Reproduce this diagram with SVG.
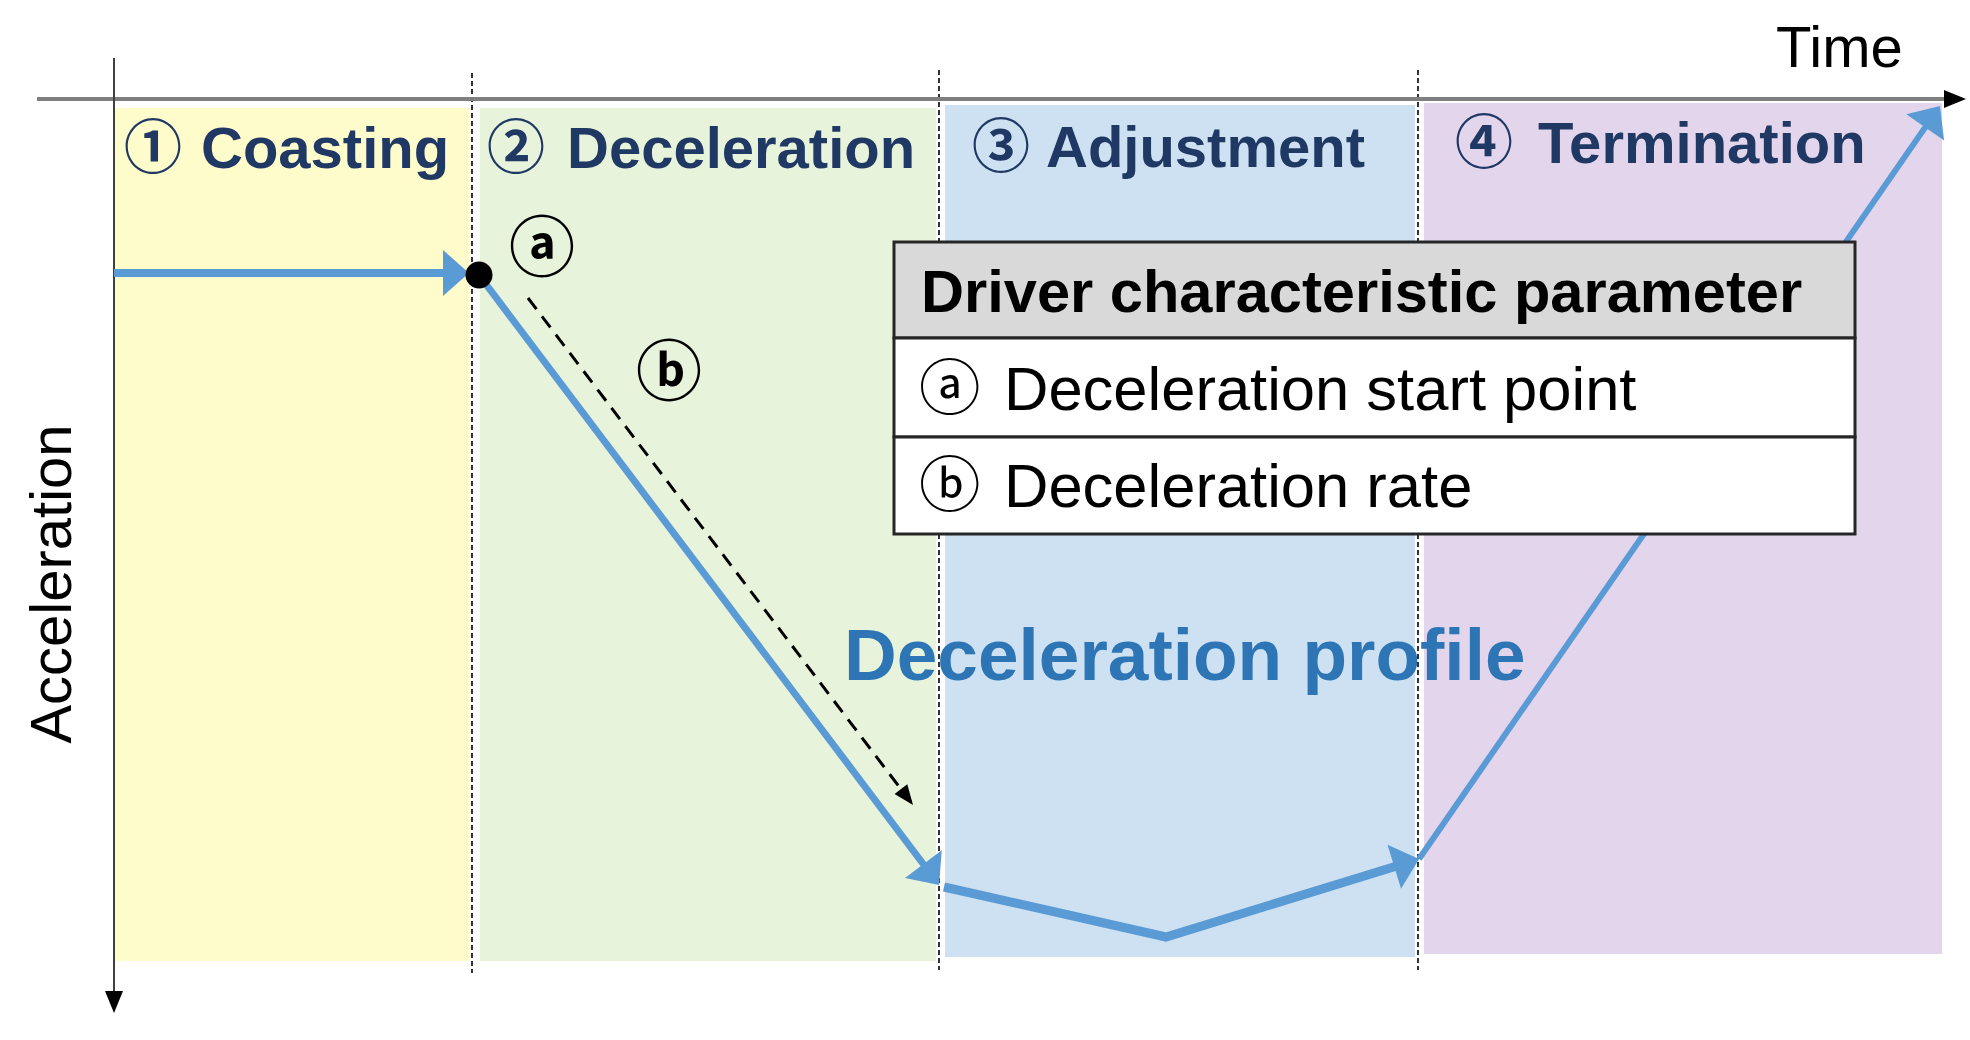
<svg xmlns="http://www.w3.org/2000/svg" width="1970" height="1040" viewBox="0 0 1970 1040">
<style>
.band-label{font-family:"Liberation Sans",Arial,sans-serif;font-weight:700;font-size:58px;fill:#203864}
.circ{font-family:"Noto Sans CJK JP","DejaVu Sans",sans-serif}
.axis-label{font-family:"Liberation Sans",Arial,sans-serif;font-size:58px;fill:#000}
.sep{stroke:#000;stroke-width:1.6;stroke-dasharray:5 3;fill:none}
.prof{stroke:#5B9BD5;fill:none;stroke-linejoin:miter}
.tbl{font-family:"Liberation Sans",Arial,sans-serif;fill:#000}
.cell{stroke:#262626;stroke-width:3}
</style>
<defs>
<marker id="blueHead" markerUnits="userSpaceOnUse" markerWidth="26" markerHeight="46" refX="6" refY="23" orient="auto" overflow="visible">
<path d="M0,0 L26,23 L0,46 z" fill="#5B9BD5"/>
</marker>
<marker id="blackHead" markerUnits="userSpaceOnUse" markerWidth="20" markerHeight="16" refX="16" refY="8" orient="auto" overflow="visible">
<path d="M0,0 L20,8 L0,16 z" fill="#000"/>
</marker>
<marker id="axisHead" markerUnits="userSpaceOnUse" markerWidth="22" markerHeight="18" refX="2" refY="9" orient="auto" overflow="visible">
<path d="M0,0 L22,9 L0,18 z" fill="#000"/>
</marker>
</defs>
<rect width="1970" height="1040" fill="#fff"/>

<g id="bands">
<rect id="band-coasting" x="114" y="108" width="355" height="853" fill="#FFFCCB"/>
<rect id="band-deceleration" x="480" y="108" width="456" height="853" fill="#E7F4DB"/>
<rect id="band-adjustment" x="945" y="105" width="470" height="852" fill="#CDE1F2"/>
<rect id="band-termination" x="1424" y="103" width="518" height="851" fill="#E3D6EC"/>
</g>

<g id="band-labels">
<text id="label-coasting" class="band-label" y="168"><tspan class="circ" x="124">①</tspan><tspan x="201">Coasting</tspan></text>
<text id="label-deceleration" class="band-label" y="168"><tspan class="circ" x="487">②</tspan><tspan x="567">Deceleration</tspan></text>
<text id="label-adjustment" class="band-label" y="167"><tspan class="circ" x="972">③</tspan><tspan x="1046">Adjustment</tspan></text>
<text id="label-termination" class="band-label" y="163"><tspan class="circ" x="1455">④</tspan><tspan x="1538">Termination</tspan></text>
</g>

<text id="profile-label" x="844" y="680" font-family="Liberation Sans, Arial, sans-serif" font-weight="700" font-size="73" fill="#2E75B6">Deceleration profile</text>

<g id="separators">
<line class="sep" x1="472" y1="73" x2="472" y2="973"/>
<line class="sep" x1="939" y1="70" x2="939" y2="970"/>
<line class="sep" x1="1418" y1="70" x2="1418" y2="970"/>
</g>

<g id="axes">
<line id="time-axis" x1="37" y1="99" x2="1946" y2="99" stroke="#7F7F7F" stroke-width="4" marker-end="url(#axisHead)"/>
<line id="accel-axis" x1="114" y1="58" x2="114" y2="993" stroke="#404040" stroke-width="2" marker-end="url(#axisHead)"/>
<text id="time-label" class="axis-label" x="1776" y="67">Time</text>
<text id="accel-label" class="axis-label" text-anchor="middle" transform="translate(71,584) rotate(-90)">Acceleration</text>
</g>

<g id="connectors">
<line id="coast-arrow" class="prof" x1="114" y1="273" x2="449" y2="273" stroke-width="8" marker-end="url(#blueHead)"/>
<line id="decel-arrow" class="prof" x1="479" y1="275" x2="927" y2="869" stroke-width="7" marker-end="url(#blueHead)"/>
<polyline id="adjust-arrow" class="prof" points="944,887 1166,937 1400,865" stroke-width="9" marker-end="url(#blueHead)"/>
<line id="term-arrow" class="prof" x1="1419" y1="859" x2="1928.6" y2="122.4" stroke-width="6" marker-end="url(#blueHead)"/>
<line id="rate-arrow" x1="528" y1="298" x2="910.6" y2="801.8" stroke="#000" stroke-width="3" stroke-dasharray="14 9" marker-end="url(#blackHead)"/>
</g>

<g id="start-point">
<circle cx="479" cy="275" r="13.5" fill="#000"/>
<text id="mark-a" x="542" y="271" text-anchor="middle" font-family="Noto Sans CJK JP, DejaVu Sans, sans-serif" font-weight="700" font-size="66" fill="#000">ⓐ</text>
<text id="mark-b" x="669" y="395" text-anchor="middle" font-family="Noto Sans CJK JP, DejaVu Sans, sans-serif" font-weight="700" font-size="66" fill="#000">ⓑ</text>
</g>

<g id="param-table">
<rect x="894" y="242" width="961" height="96" fill="#D9D9D9" class="cell"/>
<rect x="894" y="338" width="961" height="99" fill="#fff" class="cell"/>
<rect x="894" y="437" width="961" height="97" fill="#fff" class="cell"/>
<text class="tbl" x="921" y="312" font-weight="700" font-size="59.6">Driver characteristic parameter</text>
<text class="tbl" y="410" font-size="61.5"><tspan class="circ" x="919">ⓐ</tspan><tspan x="1004">Deceleration start point</tspan></text>
<text class="tbl" y="507" font-size="61.5"><tspan class="circ" x="919">ⓑ</tspan><tspan x="1004">Deceleration rate</tspan></text>
</g>
</svg>
